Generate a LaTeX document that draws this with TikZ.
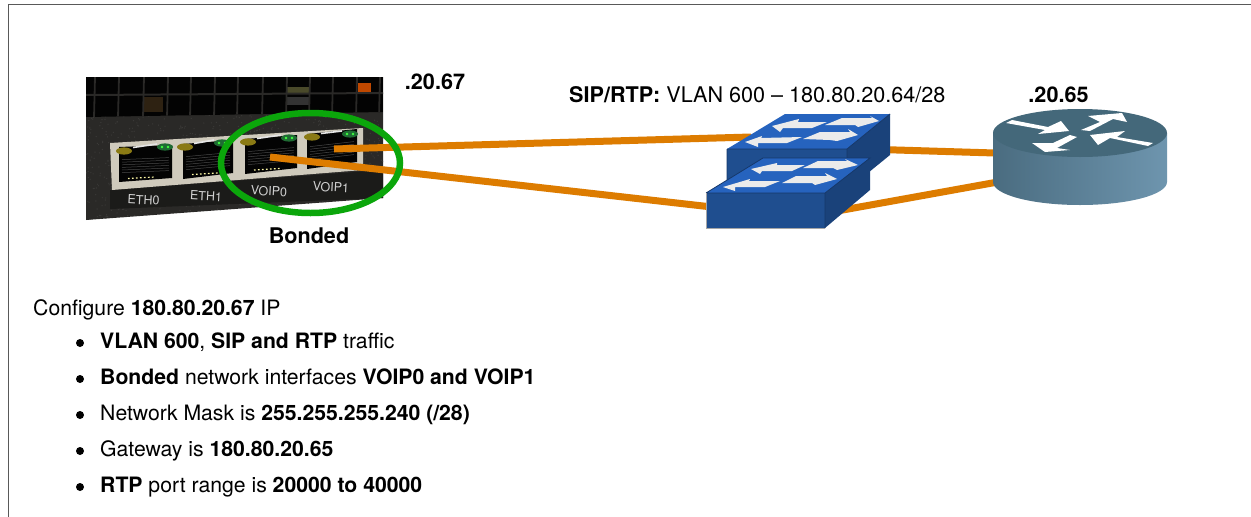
\documentclass[tikz,border=0pt]{standalone}
\usepackage{fontspec}
\setmainfont{TeX Gyre Heros}
\definecolor{wire}{HTML}{DD7C00}
\definecolor{ring}{HTML}{0BA60B}
\definecolor{swtop}{HTML}{2663BE}
\definecolor{swfront}{HTML}{1F4E8F}
\definecolor{swedge}{HTML}{16386A}
\definecolor{rtop}{HTML}{44687A}
\definecolor{rleft}{HTML}{4A6C80}
\definecolor{rright}{HTML}{6E95AE}
\definecolor{chassis}{HTML}{2A2927}
\definecolor{speck}{HTML}{3A3937}
\definecolor{panel}{HTML}{CFCABC}
\definecolor{ledy}{HTML}{8A7A14}
\definecolor{ledg}{HTML}{1F6B33}
\definecolor{spotb}{HTML}{2E2212}
\definecolor{spoto}{HTML}{4A4A2A}
\definecolor{spotg}{HTML}{333333}
\tikzset{
  wireline/.style={draw=wire,line width=7pt},
  lbl/.style={inner sep=0pt,anchor=base west,font=\fontsize{21.2}{24}\selectfont},
  toplbl/.style={inner sep=0pt,anchor=base west,font=\fontsize{21.6}{24}\selectfont},
  blbl/.style={inner sep=0pt,anchor=base,font=\fontsize{21.6}{24}\selectfont\bfseries},
  portlbl/.style={inner sep=0pt,text=white!82!black,font=\fontsize{12.5}{13}\selectfont},
  swarrow/.style={fill=white!92!black,draw=none},
  rarrow/.style={fill=white,draw=none},
  bulletdot/.style={circle,fill=black,inner sep=0pt,minimum size=8pt},
}
% x-left, y-left, x-right, y-right, LED-yellow x,y, LED-green x,y
\newcommand{\rjport}[8]{%
  \fill[black!92!chassis] (#1,#2) -- (#3,#4) -- (#3,#4+33) -- (#1,#2+35) -- cycle;
  \foreach \k in {1,...,6}{\draw[black!72!white,line width=.5pt] (#1+3,#2+10+\k*2.6) -- (#3-3,#4+10+\k*2.6);}
  \draw[white!90!black,line width=1.6pt] (#5+9,#6-3.5) -- (#7-8,#8-3);
  \fill[ledy] (#5,#6) ellipse (8pt and 3.6pt);
  \fill[ledg] (#7,#8) ellipse (8pt and 3.6pt);
  \fill[green!75!white] (#7-3,#8) circle (1.3pt) (#7+3,#8) circle (1.3pt);
}
\begin{document}
\begin{tikzpicture}[x=1pt,y=-1pt]
\useasboundingbox (0,0) rectangle (1251,517);
\fill[white] (0,0) rectangle (1251,517);
% frame
\draw[black!65,line width=1.5pt] (8.5,517) -- (8.5,4.7) -- (1251,4.7);
% chassis photo
\fill[chassis] (86,77) -- (383,77) -- (383,198) -- (86,220) -- cycle;
\begin{scope}
\clip (86,77) -- (383,77) -- (383,198) -- (86,220) -- cycle;
\pgfmathsetseed{42}
\foreach \n in {1,...,900}{
  \pgfmathsetmacro{\sx}{86+297*rnd}
  \pgfmathsetmacro{\sy}{114+106*rnd}
  \fill[speck] (\sx,\sy) circle (.7pt);
}
\end{scope}
\begin{scope}
\clip (86,77) -- (383,77) -- (383,112) -- (86,117) -- cycle;
\fill[black!92!chassis] (86,77) rectangle (383,118);
\fill[spotb] (143,97) rectangle (163,112);
\fill[spoto] (287,87) rectangle (310,93);
\fill[spotg] (287,97) rectangle (310,105);
\fill[orange!75!red!75!black] (358,83) rectangle (371,92);
\foreach \gx in {95,119,144,168,191,215,238,263,287,310,333,357,380}{\draw[chassis,line width=1.8pt] (\gx,77) -- (\gx-1,118);}
\draw[chassis,line width=2pt] (86,95) -- (383,93);
\end{scope}
% recess below the bezel
\fill[black!35!chassis] (110,190) -- (383,170) -- (383,198) -- (110,209) -- cycle;
% bezel
\fill[panel] (110,143) -- (363,128) -- (363,170) -- (112,190) -- cycle;
\rjport{119}{147}{172}{145}{124}{151}{165}{147}
\rjport{183}{144}{233}{140}{185}{147}{222}{143}
\rjport{245}{139}{297}{135}{248}{142}{289}{138}
\rjport{307}{134}{357}{129}{312}{137}{350}{134}
\draw[yellow!35!white,line width=1.2pt,dash pattern=on 1.6pt off 2.4pt] (128,178.5) -- (155,177);
\draw[yellow!35!white,line width=1.2pt,dash pattern=on 1.6pt off 2.4pt] (192,174.5) -- (218,173);
\draw[yellow!35!white,line width=1.2pt,dash pattern=on 1.6pt off 2.4pt] (254,170) -- (280,168.5);
% port labels
\node[portlbl,rotate=-3] (eth0) at (143.5,200) {ETH0};
\node[portlbl,rotate=-3] (eth1) at (206,196) {ETH1};
\node[portlbl,rotate=-3] (voip0) at (269,191) {VOIP0};
\node[portlbl,rotate=-3] (voip1) at (331,187) {VOIP1};
% connector ends
\coordinate (p1) at (334,149);
\coordinate (p0) at (270,157);
\coordinate (s1w) at (751,137);
\coordinate (s2w) at (712,207);
\coordinate (s1e) at (880,149.5);
\coordinate (s2e) at (840,210.5);
\coordinate (rw1) at (995,153);
\coordinate (rw2) at (995,182.5);
\draw[wireline] (p1) -- (s1w);
\draw[wireline] (p0) -- (s2w);
\draw[wireline] (s1e) -- (rw1);
\draw[wireline] (s2e) -- (rw2);
% bonded ring
\draw[ring,line width=6.5pt] (310.5,163) ellipse (89.5pt and 50pt);
% upper switch
\fill[swtop] (727,149) -- (785,114) -- (890,114) -- (847,149) -- cycle;
\fill[swfront] (727,149) rectangle (847,190);
\fill[swfront!85!black] (847,149) -- (890,114) -- (890,155) -- (847,190) -- cycle;
\draw[swedge,line width=.8pt] (727,149) -- (847,149) -- (890,114) (847,149) -- (847,190) (727,149) -- (727,190);
\fill[swarrow] (745,142) -- (762,136) -- (761,138) -- (802,137) -- (787,143) -- (758,143) -- (758,147) -- cycle;
\fill[swarrow] (772,126) -- (799,119) -- (798,122) -- (827,122) -- (812,128) -- (783,128) -- (780,132) -- cycle;
\fill[swarrow] (803,139) -- (820,132) -- (850,132) -- (848,129) -- (858,135) -- (837,141) -- (830,140) -- cycle;
\fill[swarrow] (825,125) -- (842,118) -- (872,118) -- (870,116) -- (879,121) -- (858,127) -- (855,125) -- cycle;
% lower switch
\fill[swtop] (706,193) -- (763,158) -- (870,158) -- (825,193) -- cycle;
\fill[swfront] (706,193) rectangle (825,228);
\fill[swfront!85!black] (825,193) -- (870,158) -- (870,190) -- (825,228) -- cycle;
\draw[swedge,line width=.8pt] (706,193) -- (825,193) -- (870,158) -- (763,158) -- (706,193) (825,193) -- (825,228);
\draw[gray!70,line width=.6pt] (706,193) -- (706,228) -- (825,228);
\fill[swarrow] (723,187) -- (750,179) -- (749,181) -- (780,181) -- (765,187) -- (735,187) -- (735,191) -- cycle;
\fill[swarrow] (751,169) -- (777,163) -- (777,165) -- (805,165) -- (792,171) -- (762,171) -- (760,174) -- cycle;
\fill[swarrow] (782,183) -- (796,176) -- (827,176) -- (825,173) -- (837,179) -- (815,185) -- (812,183) -- cycle;
\fill[swarrow] (803,168) -- (818,161) -- (847,161) -- (845,159) -- (858,165) -- (837,170) -- (833,168) -- cycle;
% router
\shade[left color=rleft,right color=rright,middle color=rleft!50!rright]
  (993,133) -- (993,182) arc[start angle=180,end angle=360,x radius=87pt,y radius=23pt] -- (1167,133) -- cycle;
\fill[rtop] (1080,133) ellipse (87pt and 24pt);
\fill[rarrow] (1006,123) -- (1012,120) -- (1048,127) -- (1061,121) -- (1069,131) -- (1038,134) -- (1045,130) -- cycle;
\fill[rarrow] (1077,137) -- (1070,135) -- (1053,143) -- (1032,143) -- (1045,152) -- (1070,150) -- (1057,148) -- cycle;
\fill[rarrow] (1081,130) -- (1100,122) -- (1088,116) -- (1122,113) -- (1127,122) -- (1113,119) -- (1090,131) -- cycle;
\fill[rarrow] (1090,135) -- (1125,131) -- (1117,137) -- (1153,143) -- (1148,146) -- (1110,138) -- (1098,145) -- cycle;
% labels
\node[blbl] (lbl67) at (435,89) {.20.67};
\node[blbl] (lbl65) at (1058.5,102) {.20.65};
\node[blbl] (bonded) at (309,243) {Bonded};
\node[toplbl] (siprtp) at (569,102) {\textbf{SIP/RTP:} VLAN 600 – 180.80.20.64/28};
\node[lbl] (cfg) at (33,315) {Configure \textbf{180.80.20.67} IP};
\node[bulletdot] (b1) at (80,343) {};
\node[lbl] (t1) at (100,348) {\textbf{VLAN 600}, \textbf{SIP and RTP} traffic};
\node[bulletdot] (b2) at (80,379) {};
\node[lbl] (t2) at (100,384) {\textbf{Bonded} network interfaces \textbf{VOIP0 and VOIP1}};
\node[bulletdot] (b3) at (80,415) {};
\node[lbl] (t3) at (100,420) {Network Mask is \textbf{255.255.255.240 (/28)}};
\node[bulletdot] (b4) at (80,451) {};
\node[lbl] (t4) at (100,456) {Gateway is \textbf{180.80.20.65}};
\node[bulletdot] (b5) at (80,487) {};
\node[lbl] (t5) at (100,492) {\textbf{RTP} port range is \textbf{20000 to 40000}};
\end{tikzpicture}
\end{document}
